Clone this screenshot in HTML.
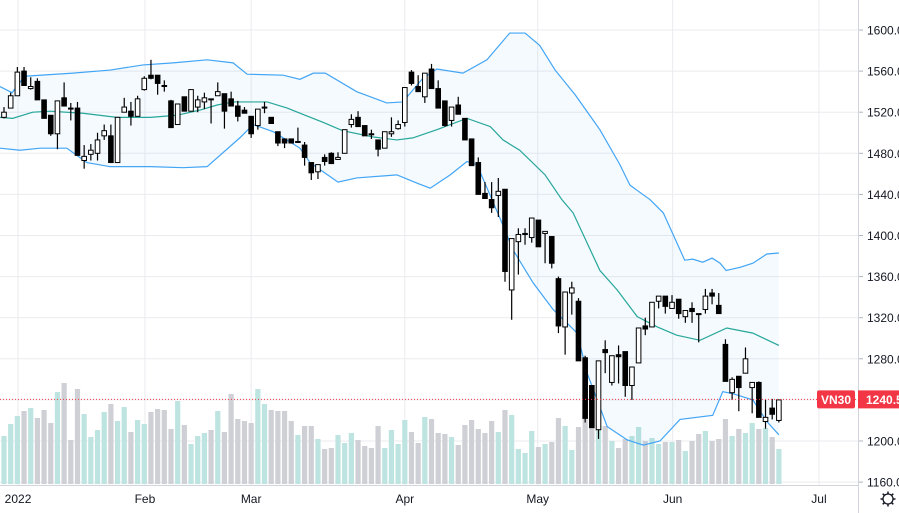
<!DOCTYPE html>
<html><head><meta charset="utf-8"><style>
html,body{margin:0;padding:0;background:#fff;}
svg{display:block;font-family:"Liberation Sans",sans-serif;}
</style></head><body>
<svg id="chart" width="899" height="513" viewBox="0 0 899 513" xmlns="http://www.w3.org/2000/svg">
<g id="grid"></g>
<g id="vol"></g>
<g id="band"></g>
<g id="candles"></g>
<g id="yaxis"></g>
<g id="xaxis"></g>
<g id="overlay"></g>
</svg>
<script>
const opens=[1515,1524,1536,1560,1543,1550,1532,1517,1499,1534,1524,1524,1473,1479,1480,1497,1497,1471,1520,1521,1516,1542,1556,1556,1546,1531,1508,1535,1521,1525,1530,1533,1536,1538,1533,1526,1522,1516,1507,1524,1515,1501,1494,1494,1491,1488,1471,1462,1476,1480,1474,1480,1508,1515,1507,1499,1493,1485,1499,1504,1510,1559,1545,1535,1562,1543,1531,1512,1527,1514,1494,1471,1441,1435,1439,1445,1347,1394,1401,1398,1415,1402,1399,1358,1311,1344,1336,1281,1254,1211,1289,1257,1284,1287,1254,1276,1312,1311,1336,1341,1329,1338,1321,1329,1324,1328,1344,1332,1294,1247,1263,1266,1252,1257,1219,1232,1220];
const highs=[1525,1539,1564,1564,1554,1553,1532,1517,1531,1549,1529,1530,1488,1489,1500,1508,1508,1515,1534,1530,1536,1555,1571,1556,1551,1532,1528,1535,1542,1536,1539,1533,1549,1538,1540,1531,1525,1516,1523,1530,1515,1501,1494,1494,1505,1491,1471,1469,1479,1481,1481,1503,1518,1521,1507,1503,1493,1501,1515,1512,1544,1561,1556,1558,1567,1551,1531,1525,1535,1514,1494,1476,1452,1452,1456,1445,1397,1407,1407,1417,1415,1404,1399,1360,1345,1355,1339,1283,1254,1278,1298,1283,1293,1287,1272,1310,1320,1335,1341,1341,1342,1338,1327,1335,1324,1348,1348,1344,1299,1262,1263,1291,1257,1258,1240,1241,1240];
const lows=[1514,1524,1536,1546,1542,1532,1514,1497,1484,1526,1512,1478,1465,1473,1473,1493,1471,1471,1520,1507,1516,1541,1552,1537,1540,1505,1508,1521,1521,1520,1523,1509,1536,1504,1526,1511,1519,1495,1503,1519,1509,1487,1485,1490,1490,1468,1454,1455,1468,1470,1474,1480,1505,1506,1497,1494,1477,1485,1496,1503,1506,1546,1540,1529,1543,1524,1506,1506,1518,1493,1468,1440,1436,1422,1418,1355,1318,1362,1391,1393,1389,1373,1368,1305,1284,1323,1278,1218,1213,1202,1266,1254,1256,1243,1240,1276,1303,1311,1329,1324,1329,1319,1315,1315,1296,1324,1333,1324,1258,1240,1229,1266,1227,1223,1212,1221,1218];
const closes=[1520,1536,1559,1546,1545,1532,1514,1499,1531,1526,1523.5,1478,1477,1483,1493,1502,1471,1515,1525,1516,1533,1553,1553,1548,1545,1505,1528,1521,1542,1532,1534,1532.5,1540,1521,1526,1516,1519,1499,1523,1525,1509,1490,1490,1490,1491.5,1476,1461,1469,1472,1470,1476,1503,1513,1506,1497,1498,1484,1501,1501,1508,1544,1548,1540,1558,1543,1524,1507,1525,1518,1493,1468,1440,1436,1427,1443,1365,1397,1401,1402,1417,1389,1404,1373,1312,1345,1349,1278,1222,1213,1278,1286,1283,1282,1254,1272,1310,1309,1335,1341,1331,1335,1324,1327,1326,1323,1341,1341,1324,1258,1260,1252,1280,1257,1223,1223,1226,1240];
const volumes=[48,60,68,73,76,66,74,61,92,101,44,95,70,47,54,72,80,63,77,52,64,60,72,75,74,55,83,59,40,48,51,54,73,52,90,65,63,61,95,80,74,73,73,63,49,58,58,45,35,36,49,41,51,44,38,36,58,36,54,40,64,52,41,67,65,51,50,47,39,59,64,55,51,63,52,74,69,35,31,53,37,40,42,66,58,34,57,65,64,59,58,43,36,45,48,57,43,46,40,42,42,44,33,43,50,53,43,45,65,48,55,51,61,55,56,47,35];
const upperIdx=[-0.6,1.2,3.1,10.3,15.9,20.8,25.3,30.4,34.3,36.4,41.8,44.3,46.3,48.1,52.8,57.3,59.7,62.7,64.8,68.7,72.3,75.7,78,80.2,82.5,85.5,89.2,92.2,93.7,96.7,98.7,100.1,101.9,103.1,104.6,106,107.2,108.1,110.2,112.1,114.2,116];
const upperVal=[1545,1539,1555,1558,1561,1566,1568,1571,1568,1557,1556,1552,1558,1558,1540,1529,1530,1553,1562,1558,1571,1597,1597,1585,1561,1537,1503,1469,1449,1435,1422,1402,1376,1377,1374,1378,1373,1366,1369,1373,1382,1383];
const midIdx=[-0.6,1.3,4.3,6.9,11.8,16.9,21.9,25.9,29.3,31.9,34.3,39.4,42.4,44.3,47.8,50.7,55.2,58.8,61.2,64.8,69.3,72.8,74.7,77.2,81,83.5,85.2,89.2,91.8,94.8,97.8,100.7,104.2,108.2,112.1,116];
const midVal=[1515,1514,1520,1521,1519,1515,1515,1517,1522,1527,1530,1530,1524,1519,1510,1502,1496,1493,1495,1503,1514,1506,1493,1483,1459,1435,1422,1366,1347,1321,1311,1303,1298,1310,1305,1293];
const lowerIdx=[-0.6,2.4,5.4,9.4,12.4,15.9,21.9,26.8,30.4,35.3,37.3,40.3,44.3,45.8,50,52.8,58.8,61.8,63.8,66.8,69.3,70.8,74.3,76.2,79.2,82.2,85.8,87.3,90.3,93.3,95.7,98.2,101.2,106.1,107.6,109.1,112.1,114.2,116];
const lowerVal=[1485,1483,1485,1485,1471,1467,1467,1466,1467,1495,1508,1501,1485,1471,1452,1456,1459,1451,1446,1459,1472,1469,1416,1386,1354,1328,1305,1266,1214,1201,1196,1200,1221,1225,1248,1246,1240,1219,1206];
const priceTicks=[1600,1560,1520,1480,1440,1400,1360,1320,1280,1240,1200,1160];
const priceTickLabels=["1600.0","1560.0","1520.0","1480.0","1440.0","1400.0","1360.0","1320.0","1280.0","1240.0","1200.0","1160.0"];
const timeLabels=["2022","Feb","Mar","Apr","May","Jun","Jul"];
const timeLabelIdx=[2.1,21.1,37,60,79.9,100.1,122];
const lastPrice=1240.5;

const NS="http://www.w3.org/2000/svg";
const X=i=>4+6.68*i;
const Y=p=>30+(1600-p)*1.0275;
const VOLBASE=484;
const V=v=>VOLBASE-v*1.0;
function mk(tag,attrs,parent){const e=document.createElementNS(NS,tag);for(const k in attrs)e.setAttribute(k,attrs[k]);parent.appendChild(e);return e;}
const grid=document.getElementById('grid'),vol=document.getElementById('vol'),band=document.getElementById('band'),cg=document.getElementById('candles'),ya=document.getElementById('yaxis'),xa=document.getElementById('xaxis'),ov=document.getElementById('overlay');

priceTicks.forEach((p,k)=>{
  const l=mk('line',{x1:0,x2:858,y1:Y(p),y2:Y(p),stroke:'#ebebef','stroke-width':1},grid);
  
  
  const t=mk('line',{x1:858,x2:863,y1:Y(p),y2:Y(p),stroke:'#b2b5be'},ya);
  
  
  const tx=mk('text',{x:867,y:Y(p)+4.5,'font-size':12,fill:'#131722'},ya);
  tx.textContent=priceTickLabels[k];
  
  
});
timeLabelIdx.forEach((ix,k)=>{
  const l=mk('line',{x1:X(ix),x2:X(ix),y1:0,y2:485,stroke:'#ebebef'},grid);
  
  
  const tx=mk('text',{x:X(ix),y:503,'font-size':12,fill:'#131722','text-anchor':'middle'},xa);
  tx.textContent=timeLabels[k];
  
  
});
const ax1=mk('line',{x1:0,x2:858,y1:485.5,y2:485.5,stroke:'#d1d4dc'},xa);


const ax2=mk('line',{x1:858.5,x2:858.5,y1:0,y2:513,stroke:'#d1d4dc'},ya);



volumes.forEach((v,i)=>{
  const up=closes[i]>=opens[i];
  const r=mk('rect',{x:X(i)-2.6,y:V(v),width:5.2,height:VOLBASE-V(v),fill:up?'#bde4e0':'#cfd0d5'},vol);
  
  
});

function pts(idx,val){return idx.map((ix,k)=>[X(ix),Y(val[k])]);}
const up=pts(upperIdx,upperVal),mid=pts(midIdx,midVal),lo=pts(lowerIdx,lowerVal);
const fillD='M'+up.map(p=>p.join(',')).join('L')+'L'+lo.slice().reverse().map(p=>p.join(',')).join('L')+'Z';
const f=mk('path',{d:fillD,fill:'rgba(33,150,243,0.05)'},band);


[[up,'#42a5f5','upper-band'],[mid,'#26a69a','middle-band'],[lo,'#42a5f5','lower-band']].forEach(([p,c,n])=>{
  const pl=mk('polyline',{points:p.map(q=>q.join(',')).join(' '),fill:'none',stroke:c,'stroke-width':1.2},band);
  
  
});

opens.forEach((o,i)=>{
  const c=closes[i],x=X(i),upc=c>=o;
  const g=mk('g',{},cg);
  
  
  mk('line',{x1:x,x2:x,y1:Y(highs[i]),y2:Y(lows[i]),stroke:'#000','stroke-width':1.2},g);
  const top=Y(Math.max(o,c)),bot=Y(Math.min(o,c));
  mk('rect',{x:x-2.3,y:top,width:4.6,height:Math.max(bot-top,1),fill:upc?'#fff':'#000',stroke:'#000','stroke-width':1},g);
});

const ly=Y(lastPrice);
const dl=mk('line',{x1:0,x2:858,y1:ly,y2:ly,stroke:'#f23645','stroke-dasharray':'1,2'},ov);


const b1=mk('rect',{x:817,y:ly-9,width:38,height:18,rx:2,fill:'#f23645'},ov);


const t1=mk('text',{x:836,y:ly+4.5,'font-size':12,fill:'#fff','text-anchor':'middle','font-weight':'bold'},ov);
t1.textContent='VN30';


const b2=mk('rect',{x:858,y:ly-9,width:45,height:18,fill:'#f23645'},ov);


const t2=mk('text',{x:866,y:ly+4.5,'font-size':12,fill:'#fff','font-weight':'bold'},ov);
t2.textContent='1240.5';


const gear=mk('g',{transform:'translate(888,499)'},ov);


mk('circle',{r:5,fill:'none',stroke:'#131722','stroke-width':1.3},gear);
for(let a=0;a<8;a++){const r=a*Math.PI/4;mk('line',{x1:5*Math.cos(r),y1:5*Math.sin(r),x2:7.5*Math.cos(r),y2:7.5*Math.sin(r),stroke:'#131722','stroke-width':1.5},gear);}
</script>
</body></html>
